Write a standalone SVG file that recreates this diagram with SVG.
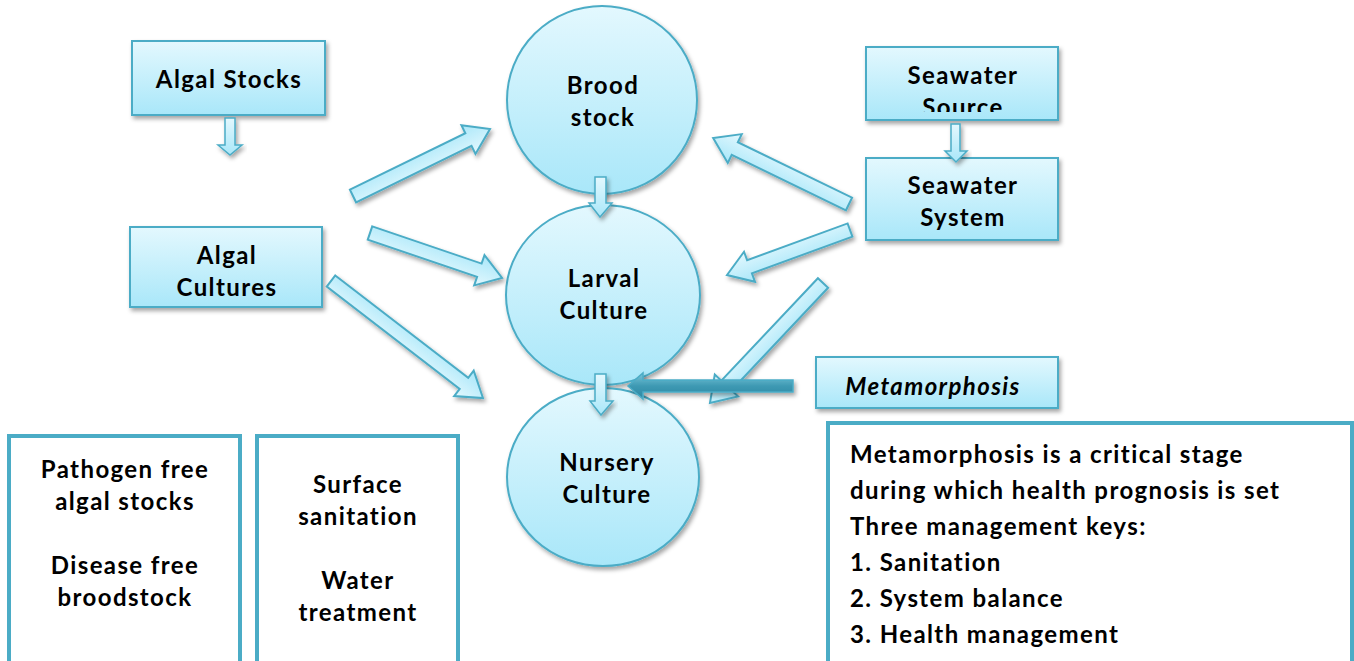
<svg xmlns="http://www.w3.org/2000/svg" width="1354" height="661" viewBox="0 0 1354 661">
<defs>
<linearGradient id="g" x1="0" y1="0" x2="0" y2="1"><stop offset="0" stop-color="#e3f8fe"/><stop offset="1" stop-color="#a9e7f9"/></linearGradient>
<linearGradient id="ga" x1="0" y1="0" x2="0" y2="1"><stop offset="0" stop-color="#a9e7f9"/><stop offset="1" stop-color="#e3f8fe"/></linearGradient>
<linearGradient id="gd" x1="0" y1="0" x2="0" y2="1"><stop offset="0" stop-color="#7cc6da"/><stop offset="0.5" stop-color="#3d99b3"/><stop offset="1" stop-color="#2f87a2"/></linearGradient>
<filter id="sh" x="-20%" y="-20%" width="140%" height="150%"><feDropShadow dx="2" dy="3" stdDeviation="2" flood-color="#000" flood-opacity="0.35"/></filter>
<clipPath id="clipSrc"><rect x="866" y="47" width="192" height="65"/></clipPath>
</defs>
<style>
.box{fill:url(#g);stroke:#4bacc6;stroke-width:2;filter:url(#sh)}
.circ{fill:url(#g);stroke:#4bacc6;stroke-width:2;filter:url(#sh)}
.arr{fill:url(#ga);stroke:#4bacc6;stroke-width:2;stroke-linejoin:miter;filter:url(#sh)}
.sarr{fill:url(#g);stroke:#4bacc6;stroke-width:1.5;filter:url(#sh)}
.note{fill:#fff;stroke:#4bacc6;stroke-width:4}
text{font-family:Lato,"Liberation Sans",sans-serif;font-weight:bold;font-size:24px;fill:#000;letter-spacing:1.4px;font-variant-ligatures:none}
.c{text-anchor:middle}
</style>

<g id="algal-stocks">
<rect class="box" x="132" y="41" width="193" height="74"/>
<text class="c" x="229" y="88">Algal Stocks</text>
</g>
<g id="algal-cultures">
<rect class="box" x="130" y="227" width="192" height="80"/>
<text class="c" x="227" y="264">Algal</text>
<text class="c" x="227" y="296">Cultures</text>
</g>
<g id="brood-stock">
<ellipse class="circ" cx="602" cy="100" rx="95" ry="94"/>
<text class="c" x="603" y="94">Brood</text>
<text class="c" x="603" y="126">stock</text>
</g>
<g id="larval-culture">
<ellipse class="circ" cx="603" cy="295" rx="97" ry="90"/>
<text class="c" x="604" y="287">Larval</text>
<text class="c" x="604" y="319">Culture</text>
</g>
<g id="nursery-culture">
<ellipse class="circ" cx="603" cy="477" rx="96" ry="89"/>
<text class="c" x="607" y="471">Nursery</text>
<text class="c" x="607" y="503">Culture</text>
</g>
<g id="seawater-source">
<rect class="box" x="866" y="47" width="192" height="73"/>
<g clip-path="url(#clipSrc)">
<text class="c" x="963" y="84">Seawater</text>
<text class="c" x="963" y="116">Source</text>
</g>
</g>
<g id="seawater-system">
<rect class="box" x="866" y="158" width="192" height="82"/>
<text class="c" x="963" y="194">Seawater</text>
<text class="c" x="963" y="226">System</text>
</g>
<g id="metamorphosis">
<rect class="box" x="816" y="357" width="242" height="51"/>
<text class="c" x="933" y="395" font-style="italic">Metamorphosis</text>
</g>
<g id="note-pathogen">
<rect class="note" x="9" y="436" width="231" height="230"/>
<text class="c" x="125" y="478">Pathogen free</text>
<text class="c" x="125" y="510">algal stocks</text>
<text class="c" x="125" y="574">Disease free</text>
<text class="c" x="125" y="606">broodstock</text>
</g>
<g id="note-sanitation">
<rect class="note" x="257" y="436" width="201" height="230"/>
<text class="c" x="358" y="493">Surface</text>
<text class="c" x="358" y="525">sanitation</text>
<text class="c" x="358" y="589">Water</text>
<text class="c" x="358" y="621">treatment</text>
</g>
<g id="note-metamorphosis">
<rect class="note" x="828" y="423" width="524" height="243"/>
<text x="850" y="463">Metamorphosis is a critical stage</text>
<text x="850" y="499">during which health prognosis is set</text>
<text x="850" y="535">Three management keys:</text>
<text x="850" y="571">1. Sanitation</text>
<text x="850" y="607">2. System balance</text>
<text x="850" y="643">3. Health management</text>
</g>

<g id="connectors">
<path class="sarr" d="M225,118 H235 V145 H242 L230,155 L218,145 H225 Z"/>
<path class="sarr" d="M951,124 H960 V151 H967 L956,162 L945,151 H951 Z"/>
<path class="sarr" d="M595,177 H606 V203 H612 L600,217 L589,203 H595 Z"/>
<path class="sarr" d="M595,374 H606 V401 H613 L601,415 L590,401 H595 Z"/>
<g class="arr">
<path transform="translate(353,196) rotate(-26.06)" d="M0,-7 H128.5 V-16 L152.5,0 L128.5,16 V7 H0 Z"/>
<path transform="translate(370,233) rotate(18.8)" d="M0,-7 H115.5 V-16 L139.5,0 L115.5,16 V7 H0 Z"/>
<path transform="translate(331,281) rotate(37.6)" d="M0,-7 H167.8 V-16 L191.8,0 L167.8,16 V7 H0 Z"/>
<path transform="translate(849,204) rotate(-154.1)" d="M0,-7 H127 V-16 L151,0 L127,16 V7 H0 Z"/>
<path transform="translate(850,230) rotate(159.9)" d="M0,-7 H107 V-16 L131,0 L107,16 V7 H0 Z"/>
<path transform="translate(823,283) rotate(133.3)" d="M0,-7 H140.8 V-16 L164.8,0 L140.8,16 V7 H0 Z"/>
</g>
<path d="M793,380 V392 H643 V399 L628,386 L643,373 V380 Z" fill="url(#gd)" stroke="#4bacc6" stroke-width="1.5" filter="url(#sh)"/>
</g>
</svg>
